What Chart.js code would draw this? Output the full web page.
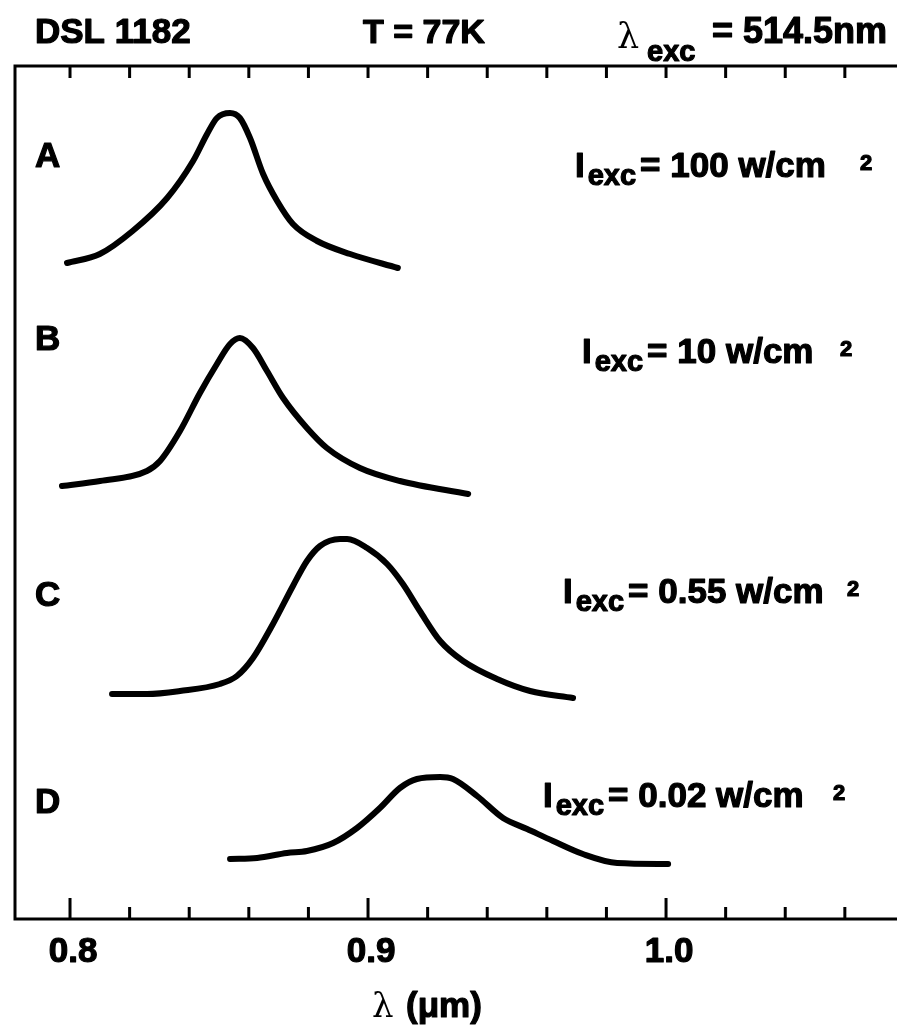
<!DOCTYPE html>
<html lang="en">
  <head>
    <meta charset="UTF-8" />
    <title>DSL 1182 photoluminescence</title>
    <script src="https://cdn.jsdelivr.net/npm/chart.js@4.4.1/dist/chart.umd.min.js"></script>
    <style>
      body {
        margin: 0;
        background-color: #fff;
      }
      #plot {
        display: block;
      }
    </style>
  </head>
  <body>
    <canvas id="plot" width="897" height="1029"></canvas>
    <script>
      // PL spectra at 77 K, wavelength in um, intensity in arbitrary units
      const wavelengthA = [0.799, 0.810, 0.821, 0.8326, 0.8413, 0.846, 0.8493, 0.8537, 0.857, 0.8604, 0.8648, 0.8695, 0.8748, 0.8829, 0.894, 0.910]
      const intensityA = [0.06, 0.15, 0.38, 0.71, 1.08, 1.35, 1.51, 1.56, 1.51, 1.31, 0.95, 0.68, 0.45, 0.28, 0.15, 0.01]

      const wavelengthB = [0.7973, 0.8101, 0.8258, 0.8302, 0.8369, 0.8436, 0.8493, 0.8537, 0.857, 0.8614, 0.8661, 0.8715, 0.8795, 0.8862, 0.8973, 0.9107, 0.9336]
      const intensityB = [0.08, 0.13, 0.23, 0.33, 0.63, 1.01, 1.30, 1.50, 1.56, 1.46, 1.23, 0.96, 0.66, 0.46, 0.26, 0.13, 0.0]

      const wavelengthC = [0.8141, 0.8258, 0.8369, 0.8503, 0.856, 0.8614, 0.8681, 0.8748, 0.8795, 0.8839, 0.8906, 0.893, 0.8997, 0.9064, 0.9117, 0.9174, 0.9242, 0.9319, 0.9433, 0.9544, 0.9688]
      const intensityC = [0.05, 0.05, 0.08, 0.15, 0.23, 0.41, 0.75, 1.13, 1.38, 1.53, 1.60, 1.60, 1.51, 1.35, 1.15, 0.88, 0.58, 0.38, 0.20, 0.08, 0.01]

      const wavelengthD = [0.8537, 0.8628, 0.8728, 0.8795, 0.8883, 0.8963, 0.904, 0.9107, 0.9164, 0.9242, 0.9285, 0.9366, 0.9453, 0.9534, 0.9621, 0.9721, 0.9836, 1.0007]
      const intensityD = [0.05, 0.06, 0.11, 0.13, 0.21, 0.36, 0.56, 0.76, 0.85, 0.87, 0.85, 0.68, 0.46, 0.35, 0.23, 0.10, 0.01, 0.0]

      // vertical offsets used to stack the spectra
      const offsets = [6.5, 4.25, 2.2, 0.55]
      const curveLetters = ['A', 'B', 'C', 'D']
      const powerDensities = ['100', '10', '0.55', '0.02']

      const xTickValues = [0.8, 0.82, 0.84, 0.86, 0.88, 0.9, 0.92, 0.94, 0.96, 0.98, 1.0, 1.02, 1.04, 1.06]
      const xTickLabels = ['0.8', '0.9', '1.0']
      const xLabelValues = [0.8, 0.9, 1.0]

      const spectra = [
        [wavelengthA, intensityA],
        [wavelengthB, intensityB],
        [wavelengthC, intensityC],
        [wavelengthD, intensityD]
      ]

      const datasets = spectra.map(([xs, ys], k) => ({
        data: xs.map((x, i) => ({ x: x, y: ys[i] + offsets[k] })),
        borderColor: '#000',
        borderWidth: 6,
        borderCapStyle: 'round',
        borderJoinStyle: 'round',
        pointRadius: 0,
        cubicInterpolationMode: 'monotone',
        fill: false
      }))

      const sans = '"Liberation Sans", Arial, sans-serif'
      const serif = '"DejaVu Serif", "Liberation Serif", serif'

      // where the curve letters and the I_exc labels sit (px)
      const letterPos = [[35, 167], [35, 350], [35, 606], [35, 813]]
      const powerPos = [[575, 177, 860], [582, 363, 840], [563, 603, 847], [543, 807, 833]]

      // filled text with a thin outline, gives the heavier print look
      function heavyText(ctx, t, x, y) {
        ctx.fillText(t, x, y)
        ctx.strokeText(t, x, y)
      }

      const framePlugin = {
        id: 'frame',
        afterDraw(chart) {
          const ctx = chart.ctx
          const area = chart.chartArea
          const xs = chart.scales.x
          ctx.save()
          ctx.strokeStyle = '#000'
          ctx.fillStyle = '#000'
          ctx.lineCap = 'butt'

          // box: left, top and bottom sides only
          ctx.lineWidth = 3
          ctx.beginPath()
          ctx.moveTo(area.right, area.top)
          ctx.lineTo(area.left, area.top)
          ctx.lineTo(area.left, area.bottom)
          ctx.lineTo(area.right, area.bottom)
          ctx.stroke()

          // inward ticks on top and bottom
          xTickValues.forEach(v => {
            const px = xs.getPixelForValue(v)
            const major = xLabelValues.some(m => Math.abs(m - v) < 1e-6)
            ctx.beginPath()
            ctx.moveTo(px, area.bottom)
            ctx.lineTo(px, area.bottom - (major ? 21 : 12))
            ctx.moveTo(px, area.top)
            ctx.lineTo(px, area.top + 12)
            ctx.stroke()
          })

          ctx.lineWidth = 1.2
          ctx.lineJoin = 'round'

          // tick labels
          ctx.font = 'bold 35px ' + sans
          ctx.textAlign = 'center'
          ctx.textBaseline = 'alphabetic'
          xLabelValues.forEach((v, i) => {
            heavyText(ctx, xTickLabels[i], xs.getPixelForValue(v) + 3, 962)
          })

          // axis title
          ctx.textAlign = 'left'
          ctx.font = '34px ' + serif
          ctx.fillText('λ', 372, 1017)
          ctx.font = 'bold 35px ' + sans
          heavyText(ctx, '(μm)', 406, 1017)

          // header line
          ctx.font = 'bold 35px ' + sans
          heavyText(ctx, 'DSL 1182', 35, 43)
          ctx.font = 'bold 34px ' + sans
          heavyText(ctx, 'T = 77K', 363, 43)
          ctx.font = '35px ' + serif
          ctx.fillText('λ', 617, 48)
          ctx.font = 'bold 29px ' + sans
          heavyText(ctx, 'exc', 647, 61)
          ctx.font = 'bold 36px ' + sans
          heavyText(ctx, '= 514.5nm', 712, 43)

          // curve letters
          ctx.font = 'bold 35px ' + sans
          curveLetters.forEach((t, i) => {
            heavyText(ctx, t, letterPos[i][0], letterPos[i][1])
          })

          // excitation densities
          powerDensities.forEach((p, i) => {
            const [x0, base, xSup] = powerPos[i]
            let x = x0
            ctx.font = 'bold 35px ' + sans
            heavyText(ctx, 'I', x, base)
            x += ctx.measureText('I').width + 3
            ctx.font = 'bold 29px ' + sans
            heavyText(ctx, 'exc', x, base + 8)
            x += ctx.measureText('exc').width + 4
            ctx.font = 'bold 35px ' + sans
            heavyText(ctx, '= ' + p + ' w/cm', x, base)
            ctx.font = 'bold 22px ' + sans
            heavyText(ctx, '2', xSup, base - 7)
          })
          ctx.restore()
        }
      }

      new Chart(document.getElementById('plot').getContext('2d'), {
        type: 'line',
        data: { datasets: datasets },
        options: {
          responsive: false,
          animation: false,
          layout: { padding: { left: 15, top: 66, right: 0, bottom: 110 } },
          plugins: {
            legend: { display: false },
            tooltip: { enabled: false }
          },
          scales: {
            x: { type: 'linear', min: 0.78154, max: 1.0775, display: false },
            y: { type: 'linear', min: 0, max: 8.53, display: false }
          }
        },
        plugins: [framePlugin]
      })
    </script>
  </body>
</html>
